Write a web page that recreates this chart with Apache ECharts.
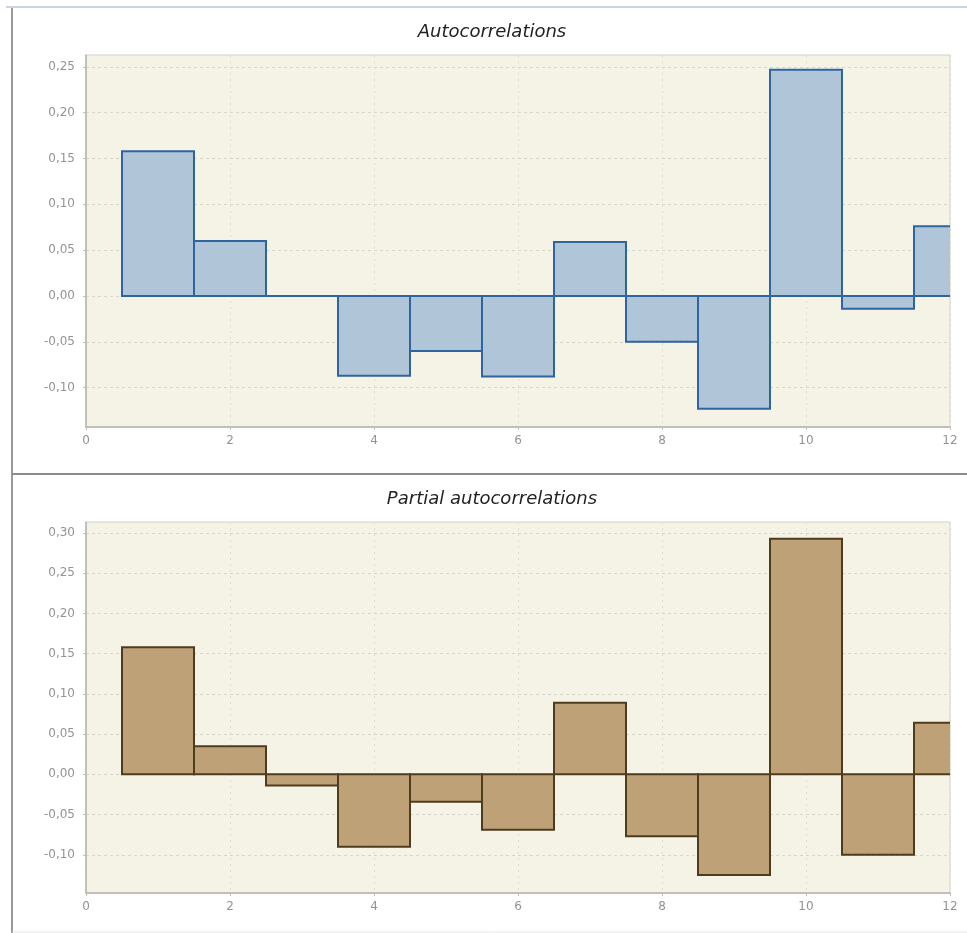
<!DOCTYPE html>
<html><head><meta charset="utf-8">
<script src="https://cdn.jsdelivr.net/npm/echarts@6/dist/echarts.min.js"></script>
<style>html,body{margin:0;padding:0;background:#fff}#c{width:967px;height:933px}</style>
</head><body><div id="c"></div>
<script>
const lags = [1,2,3,4,5,6,7,8,9,10,11,12];
const acf = [0.158,0.060,0.000,-0.087,-0.060,-0.088,0.059,-0.050,-0.123,0.247,-0.014,0.076];
const pacf = [0.158,0.035,-0.014,-0.090,-0.034,-0.069,0.089,-0.077,-0.125,0.293,-0.100,0.064];
const acfTicks = [-0.10,-0.05,0.00,0.05,0.10,0.15,0.20,0.25];
const pacfTicks = [-0.10,-0.05,0.00,0.05,0.10,0.15,0.20,0.25,0.30];
const xTicks = [0,2,4,6,8,10,12];
const titles = ['Autocorrelations','Partial autocorrelations'];

const chart = echarts.init(document.getElementById('c'));
const fmt = v => (Math.round(v*100)/100).toFixed(2).replace('.', ',');
const FONT = 'DejaVu Sans, Verdana, sans-serif';
const labelStyle = {color:'#939393', fontSize:12, fontFamily:FONT};

function xAxis(gi){
  return {type:'value', gridIndex:gi, min:0, max:12, interval:2,
    axisLine:{show:true, onZero:false, lineStyle:{color:'#b4b4ac', width:1.5}},
    axisTick:{show:true, length:3, customValues:xTicks, lineStyle:{color:'#c0c0b8'}},
    axisLabel:Object.assign({margin:8, customValues:xTicks}, labelStyle),
    splitLine:{show:true, lineStyle:{color:'#dcdcd0', type:[2,4], width:1}}};
}
function yAxis(gi, min, max, ticks){
  return {type:'value', gridIndex:gi, min:min, max:max,
    axisLine:{show:true, lineStyle:{color:'#b4b4ac', width:1.5}},
    axisTick:{show:true, length:3, customValues:ticks, lineStyle:{color:'#c0c0b8'}},
    axisLabel:Object.assign({margin:11, customValues:ticks, formatter:fmt}, labelStyle),
    splitLine:{show:true, lineStyle:{color:'#d6d6ca', type:[3,3], width:1}}};
}
function barSeries(gi, data, fill, stroke){
  return {type:'custom', xAxisIndex:gi, yAxisIndex:gi, clip:true,
    data: lags.map((l,i)=>[l, data[i]]),
    renderItem:(params, api)=>{
      const x = api.value(0), v = api.value(1);
      const p0 = api.coord([x-0.5, 0]);
      const p1 = api.coord([x+0.5, v]);
      return {type:'rect',
        shape:{x:p0[0], y:Math.min(p0[1],p1[1]), width:p1[0]-p0[0], height:Math.abs(p1[1]-p0[1])},
        style:{fill:fill, stroke:stroke, lineWidth:2}};
    }};
}
const titleFont = {fontStyle:'italic', fontWeight:'normal', fontSize:18, fill:'#222', fontFamily:FONT, textAlign:'center', textVerticalAlign:'middle'};

chart.setOption({
  animation:false,
  backgroundColor:'#ffffff',
  grid:[
    {left:86, top:55, width:864, height:372, show:true, backgroundColor:'#f4f3e6', borderColor:'#d2d2c8', borderWidth:1},
    {left:86, top:522, width:864, height:371, show:true, backgroundColor:'#f4f3e6', borderColor:'#d2d2c8', borderWidth:1}
  ],
  xAxis:[xAxis(0), xAxis(1)],
  yAxis:[yAxis(0, -0.143, 0.263, acfTicks), yAxis(1, -0.1475, 0.3137, pacfTicks)],
  series:[
    barSeries(0, acf, 'rgba(176,198,216,1)', '#2e64a0'),
    barSeries(1, pacf, 'rgba(191,161,120,1)', '#4e3c1e')
  ],
  graphic:[
    {type:'line', shape:{x1:6, y1:7, x2:967, y2:7}, style:{stroke:'#c9d3e2', lineWidth:2}},
    {type:'line', shape:{x1:12, y1:8, x2:12, y2:933}, style:{stroke:'#9a9a9a', lineWidth:2}},
    {type:'line', shape:{x1:12, y1:474, x2:967, y2:474}, style:{stroke:'#8c8c8c', lineWidth:2}},
    {type:'line', shape:{x1:12, y1:932, x2:967, y2:932}, style:{stroke:'#e4e4e4', lineWidth:1}},
    {type:'text', x:492, y:32, style:Object.assign({text:titles[0]}, titleFont)},
    {type:'text', x:492, y:499, style:Object.assign({text:titles[1]}, titleFont)}
  ]
});
</script></body></html>
